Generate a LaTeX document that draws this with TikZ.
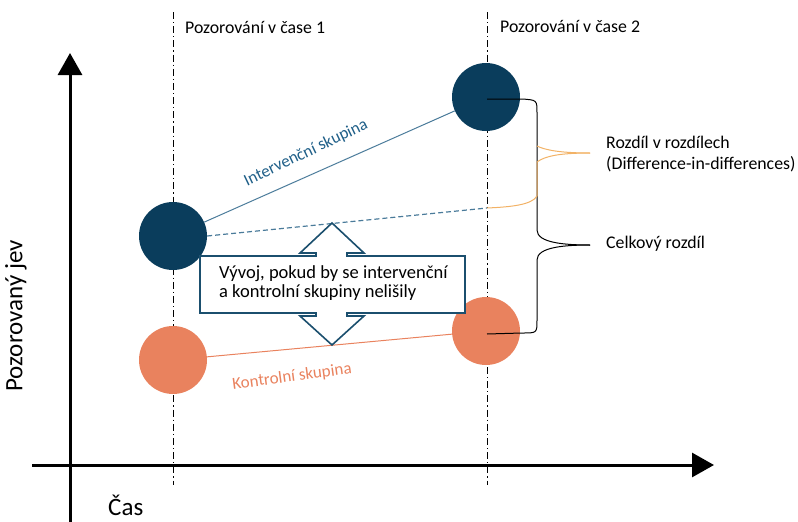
\documentclass[tikz,border=0pt]{standalone}
\usepackage{fontspec}
\setmainfont{Carlito}
\usetikzlibrary{arrows.meta}
\definecolor{navy}{HTML}{0A3D5C}
\definecolor{coral}{HTML}{E9825E}
\definecolor{linkblue}{HTML}{4A7B9A}
\definecolor{txtblue}{HTML}{1F5F88}
\definecolor{lightorange}{HTML}{F2B266}
\definecolor{boxblue}{HTML}{1B4F6E}
\begin{document}
\begin{tikzpicture}[x=1pt,y=-1pt,
  dot/.style={circle,inner sep=0pt,minimum size=68pt},
  guide/.style={line width=0.9pt,dash pattern=on 7pt off 3pt on 1.2pt off 3pt},
  axis/.style={line width=3pt,-{Triangle[length=22pt,width=24pt]}},
  lbl/.style={anchor=base west,inner sep=0pt,font=\fontsize{17.8}{20}\selectfont},
  bigtxt/.style={inner sep=0pt,font=\fontsize{25}{28}\selectfont}]
\useasboundingbox (0,0) rectangle (798,522);
% guides
\coordinate (g1t) at (173,12); \coordinate (g1b) at (173,485);
\coordinate (g2t) at (487,12); \coordinate (g2b) at (487,485);
\draw[guide] (g1t) -- (g1b);
\draw[guide] (g2t) -- (g2b);
% axes
\coordinate (yo) at (70,522); \coordinate (yt) at (70,53);
\coordinate (xo) at (32,465); \coordinate (xt) at (714,465);
\draw[axis] (yo) -- (yt);
\draw[axis] (xo) -- (xt);
% labels
\node[lbl] (p1) at (185,33) {Pozorování v čase 1};
\node[lbl] (p2) at (500,32) {Pozorování v čase 2};
\node[bigtxt,rotate=90] (yl) at (16,316) {Pozorovaný jev};
\node[bigtxt,anchor=base west] (xl) at (108,515) {Čas};
% dots
\node[dot,fill=navy] (i1) at (173,236) {};
\node[dot,fill=navy] (i2) at (486,97) {};
\node[dot,fill=coral] (k1) at (173,360) {};
\node[dot,fill=coral] (k2) at (486,331) {};
% connectors
\draw[linkblue,line width=1pt] (i1) -- (i2);
\coordinate (cf) at (487,208);
\draw[linkblue,line width=1.2pt,dash pattern=on 5pt off 3pt] (i1.east) -- (cf);
\draw[coral,line width=1pt] (k1) -- (k2);
\node[txtblue,font=\fontsize{17}{19}\selectfont,rotate=25.5] (it) at (306,153) {Intervenční skupina};
\node[coral,font=\fontsize{17}{19}\selectfont,rotate=7.5] (kt) at (292,377) {Kontrolní skupina};
% double arrow box
\draw[boxblue,line width=1.6pt,fill=white,line join=miter]
  (200,256) -- (316,256) -- (316,253) -- (300,253) -- (332,223) -- (364,253) -- (347,253) -- (347,256)
  -- (465,256) -- (465,313) -- (347,313) -- (347,316) -- (364,316) -- (332,345) -- (300,316) -- (316,316)
  -- (316,313) -- (200,313) -- cycle;
\node[lbl,align=left,anchor=north west,font=\fontsize{18.5}{19.5}\selectfont] (bt) at (219,265) {Vývoj, pokud by se intervenční\\a kontrolní skupiny nelišily};
% black brace
\coordinate (bb1) at (487,99);
\coordinate (bb2) at (487,334);
\coordinate (btip) at (590,245);
\draw[black,line width=1pt] (bb1) -- (522,99) .. controls (537,100) .. (537,113) -- (537,230)
  .. controls (537,243) and (565,245) .. (btip);
\draw[black,line width=1pt] (btip) .. controls (565,245) and (537,247) .. (537,260) -- (537,320)
  .. controls (537,333) .. (522,333) -- (bb2);
% orange brace
\coordinate (otip) at (590,153);
\draw[lightorange,line width=1pt] (537,146) .. controls (545,150) and (560,153) .. (otip);
\draw[lightorange,line width=1pt] (otip) .. controls (560,153) and (545,156) .. (537,162) -- (537,196)
  .. controls (532,205) and (510,207) .. (cf);
\node[lbl] (r1) at (606,148) {Rozdíl v rozdílech};
\node[lbl] (r2) at (606,169) {(Difference-in-differences)};
\node[lbl] (cr) at (606,248) {Celkový rozdíl};
\end{tikzpicture}
\end{document}
